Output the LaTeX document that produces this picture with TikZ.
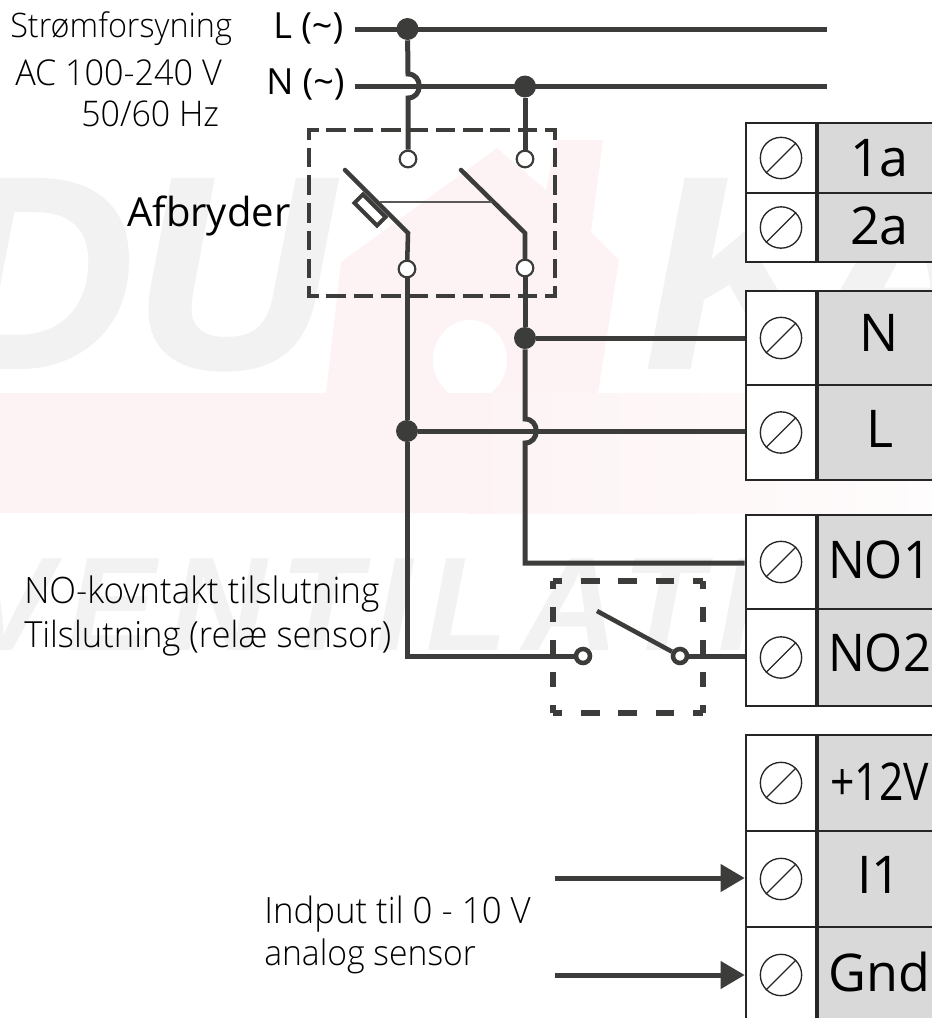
\documentclass[tikz,border=0pt]{standalone}
\usepackage{fontspec}
\setmainfont{Open Sans}
\newfontfamily\lightfont[FakeStretch=0.96]{Open Sans Light}
\newfontfamily\wmfont[FakeBold=1.5]{Liberation Sans}
\newfontfamily\wmspaced[LetterSpace=10.5]{Liberation Sans}
\usetikzlibrary{positioning,fit,calc,arrows.meta,shapes.geometric}
\definecolor{wirecol}{HTML}{3C3C3B}
\definecolor{cellgray}{HTML}{D9D9D9}
\definecolor{wmgray}{HTML}{F2F2F2}
\definecolor{wmred}{HTML}{FDF3F4}
\tikzset{wire/.style={draw=wirecol, line width=3.75pt}}
\tikzset{thinlink/.style={draw=wirecol!85, line width=1.6pt}}
\tikzset{dotjoin/.style={circle, fill=wirecol, inner sep=0, minimum size=16.5pt}}
\tikzset{termopen/.style={circle, draw=wirecol, line width=1.6pt, fill=white, inner sep=0, minimum size=12.5pt}}
\tikzset{termring/.style={circle, draw=wirecol, line width=3.4pt, fill=white, inner sep=0, minimum size=10.5pt}}
\tikzset{brkH/.style={draw=wirecol, line width=3.2pt, line cap=rect, dash pattern=on 11.5pt off 9pt, dash phase=5.75pt}}
\tikzset{brkV/.style={draw=wirecol, line width=3.2pt, line cap=rect, dash pattern=on 11.5pt off 9.3pt, dash phase=5.75pt}}
\tikzset{relH/.style={draw=wirecol, line width=4.4pt, dash pattern=on 14pt off 14.1pt, dash phase=7pt}}
\tikzset{relV/.style={draw=wirecol, line width=4.4pt, dash pattern=on 11pt off 13.6pt, dash phase=5.5pt}}
\tikzset{framebox/.style={rectangle, inner sep=0}}
\tikzset{screwcell/.style={rectangle, draw=black!85, line width=1.4pt, fill=white, inner sep=0, minimum width=53pt}}
\tikzset{labelcell/.style={rectangle, draw=black!85, line width=1.4pt, fill=cellgray, inner sep=0, minimum width=92pt, font=\fontsize{39}{39}\selectfont}}
\tikzset{screw/.style={circle, draw=black!85, line width=1pt, inner sep=0, minimum size=31pt}}
\tikzset{feed/.style={draw=wirecol, line width=3.75pt, -{Triangle[length=18pt,width=20pt]}}}
\tikzset{lbl/.style={anchor=base west, inner sep=0, font=\lightfont\fontsize{#1}{#1}\selectfont}}
\tikzset{lblreg/.style={anchor=base west, inner sep=0, font=\fontsize{27}{27}\selectfont}}
\tikzset{wmbig/.style={anchor=base west, inner sep=0, text=wmgray, font=\wmfont\bfseries\itshape\fontsize{204}{204}\selectfont}}
\tikzset{wmsmall/.style={anchor=base west, inner sep=0, text=wmgray, font=\wmspaced\bfseries\itshape\fontsize{100}{100}\selectfont}}
\newcommand\termcell[5][0pt]{
	\node[screwcell, minimum height=#4*0.75pt] (#2) at (781,#3) {};
	\node[labelcell, minimum height=#4*0.75pt, right=0pt of #2] (#2-lab) {\raisebox{#1}[\height][\depth]{#5}};
	\node[screw] (#2-s) at (#2) {};
	\draw[black!85, line width=1pt] (#2-s.225) -- (#2-s.45);
}
\newcommand\dashframe[3]{
	\draw[#2] (#1.north west) -- (#1.north east);
	\draw[#2] (#1.south west) -- (#1.south east);
	\draw[#3] (#1.north west) -- (#1.south west);
	\draw[#3] (#1.north east) -- (#1.south east);
}
\begin{document}
\begin{tikzpicture}[x=0.75pt,y=-0.75pt]
	\useasboundingbox (0,0) rectangle (932,1018);
	% watermark
	\fill[wmred] (326,393) -- (341,262) -- (497,148) -- (546,190) -- (556,140) -- (603,140)
		-- (591,232) -- (619,260) -- (598,393) -- cycle;
	\fill[white] (470,360) ellipse[x radius=37, y radius=40];
	\fill[wmred] (0,393) rectangle (466,513);
	\fill[left color=wmred, right color=wmred!25] (466,393) rectangle (932,513);
	\node[wmbig] (wmDU) at (-62,367) {DU};
	\node[wmbig] (wmK) at (645,367) {K};
	\node[wmbig] (wmA) at (805,367) {A};
	\node[wmsmall] (wmVent) at (-36,650) {VENTILATI};

	% terminal blocks
	\termcell{t1a}{158}{70}{1a}
	\termcell[1.5pt]{t2a}{227.5}{69}{2a}
	\termcell[4pt]{tN}{338}{94}{N}
	\termcell[3pt]{tL}{432.5}{95}{L}
	\termcell[1.5pt]{tNOa}{562}{94}{\scalebox{0.94}[1]{NO1}}
	\termcell[3.5pt]{tNOb}{657.5}{97}{\scalebox{0.94}[1]{NO2}}
	\termcell[1pt]{tPlus}{783}{96}{\scalebox{0.82}[1]{+12V}}
	\termcell[3pt]{tI}{879}{96}{I1}
	\termcell[2pt]{tGnd}{975}{96}{Gnd}

	% mains in
	\coordinate (Lin) at (355,29);
	\coordinate (Lout) at (827,29);
	\coordinate (Nin) at (355,86.5);
	\coordinate (Nout) at (827,86.5);
	\node[dotjoin] (dotLbus) at (407.5,29) {};
	\node[dotjoin] (dotNbus) at (525,86.5) {};
	\draw[wire] (Lin) -- (Lout);
	\draw[wire] (Nin) -- (Nout);

	% breaker
	\node[framebox, minimum width=184.5pt, minimum height=124.5pt] (brk) at (432,213) {};
	\dashframe{brk}{brkH}{brkV}
	\node[termopen] (inA) at (408,159) {};
	\node[termopen] (inB) at (525,159) {};
	\node[termopen] (outA) at (407,269) {};
	\node[termopen] (outB) at (525,268) {};
	\node[draw=wirecol, line width=3pt, fill=white, rotate=-45, inner sep=0, minimum width=24pt, minimum height=9pt] (fuse) at (370,210) {};
	\coordinate (hopAa) at (408,74);
	\coordinate (hopAb) at (408,98);
	\draw[wire] (dotLbus) -- (hopAa) .. controls (423,74) and (423,98) .. (hopAb) -- (inA);
	\draw[wire] (dotNbus) -- (inB);
	\coordinate (bladeAtop) at (345,170);
	\coordinate (bladeAknee) at (408,233);
	\coordinate (bladeBtop) at (461,170);
	\coordinate (bladeBknee) at (525,233);
	\draw[wire, line width=3.4pt, line cap=round] (bladeAtop) -- (bladeAknee) -- (outA);
	\draw[wire, line width=3.4pt, line cap=round] (bladeBtop) -- (bladeBknee) -- (outB);
	\coordinate (linkA) at (380,202);
	\coordinate (linkB) at (492,202);
	\draw[thinlink] (linkA) -- (linkB);

	% outputs
	\node[dotjoin] (dotN) at (525,338) {};
	\node[dotjoin] (dotL) at (407,431) {};
	\coordinate (hopBa) at (525,419);
	\coordinate (hopBb) at (525,443);
	\coordinate (cornerNO) at (525,563);
	\coordinate (cornerSw) at (407,656);
	\draw[wire] (outA) -- (dotL);
	\draw[wire] (outB) -- (dotN);
	\draw[wire] (dotN) -- (hopBa) .. controls (540,419) and (540,443) .. (hopBb) -- (cornerNO) -- (tNOa.west |- cornerNO);
	\draw[wire] (dotN) -- (tN.west |- dotN);
	\draw[wire] (dotL) -- (tL.west |- dotL);

	% relay contact
	\node[framebox, minimum width=112.5pt, minimum height=98pt] (relay) at (628,647) {};
	\dashframe{relay}{relH}{relV}
	\node[termring] (relA) at (583,656) {};
	\node[termring] (relB) at (680,656) {};
	\coordinate (relTop) at (597,611);
	\draw[wire] (dotL) -- (cornerSw) -- (relA);
	\draw[wire] (relB) -- (tNOb.west |- relB);
	\draw[wire, line width=3.4pt] (relTop) -- (relB);

	% sensor inputs
	\coordinate (feedA) at (555,878);
	\coordinate (feedB) at (555,975);
	\draw[feed] (feedA) -- (tI.west |- feedA);
	\draw[feed] (feedB) -- (tGnd.west |- feedB);

	% labels
	\node[lbl=25.3] (supplyA) at (10,37) {Strømforsyning};
	\node[lbl=26.7] (supplyB) at (15,85) {AC 100-240 V};
	\node[lbl=26.5] (supplyC) at (81,126) {50/60 Hz};
	\node[lblreg] (labL) at (273,38) {L (\char"007E)};
	\node[lblreg] (labN) at (266,94) {N (\char"007E)};
	\node[lblreg, font=\fontsize{30}{30}\selectfont] (labBrk) at (127,226) {Afbryder};
	\node[lbl=27.3] (noteA) at (24,603) {NO-kovntakt tilslutning};
	\node[lbl=27] (noteB) at (24,647) {Tilslutning (relæ sensor)};
	\node[lbl=27.2] (noteC) at (264,923) {Indput til 0 - 10 V};
	\node[lbl=26.3] (noteD) at (264,965) {analog sensor};
\end{tikzpicture}
\end{document}
